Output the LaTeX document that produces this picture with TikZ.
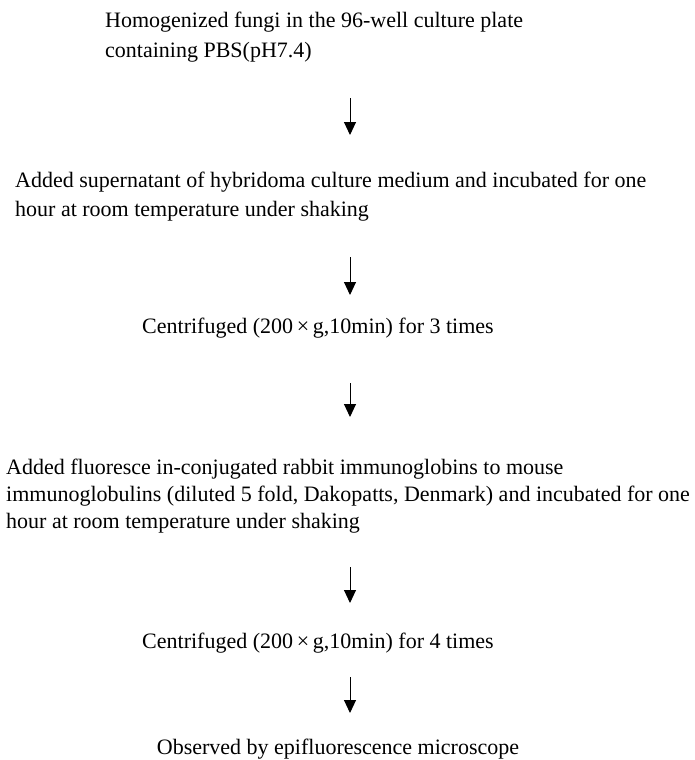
\documentclass[tikz,border=0pt]{standalone}
\usepackage{fontspec}
\setmainfont{Liberation Serif}
\usetikzlibrary{arrows.meta}
\begin{document}
\begin{tikzpicture}[x=1pt,y=-1pt,
  txt/.style={inner sep=0pt,font=\fontsize{22}{29}\selectfont},
  txtb/.style={inner sep=0pt,font=\fontsize{22}{27}\selectfont},
  arr/.style={line width=1pt,-{Triangle[length=13pt,width=12pt]}}]
\useasboundingbox (0,0) rectangle (694,760);
\node[txt,anchor=base west] (t1) at (105,28) {\begin{tabular}[t]{@{}l@{}}Homogenized fungi in the 96-well culture plate\\containing PBS(pH7.4)\end{tabular}};
\node[txt,anchor=base west] (t2) at (15,187) {\begin{tabular}[t]{@{}l@{}}Added supernatant of hybridoma culture medium and incubated for one\\hour at room temperature under shaking\end{tabular}};
\node[txt,anchor=base] (t3) at (318,333) {Centrifuged (200\,×\,g,10min) for 3 times};
\node[txtb,anchor=base west] (t4) at (6,474) {\begin{tabular}[t]{@{}l@{}}Added fluoresce in-conjugated rabbit immunoglobins to mouse\\immunoglobulins (diluted 5 fold, Dakopatts, Denmark) and incubated for one\\hour at room temperature under shaking\end{tabular}};
\node[txt,anchor=base] (t5) at (318,648) {Centrifuged (200\,×\,g,10min) for 4 times};
\node[txt,anchor=base] (t6) at (338,754) {Observed by epifluorescence microscope};
\coordinate (a1s) at (350,98);  \coordinate (a1e) at (350,135);
\coordinate (a2s) at (350,257); \coordinate (a2e) at (350,295);
\coordinate (a3s) at (350,383); \coordinate (a3e) at (350,417);
\coordinate (a4s) at (350,567); \coordinate (a4e) at (350,603);
\coordinate (a5s) at (350,677); \coordinate (a5e) at (350,713);
\draw[arr] (a1s) -- (a1e);
\draw[arr] (a2s) -- (a2e);
\draw[arr] (a3s) -- (a3e);
\draw[arr] (a4s) -- (a4e);
\draw[arr] (a5s) -- (a5e);
\end{tikzpicture}
\end{document}
